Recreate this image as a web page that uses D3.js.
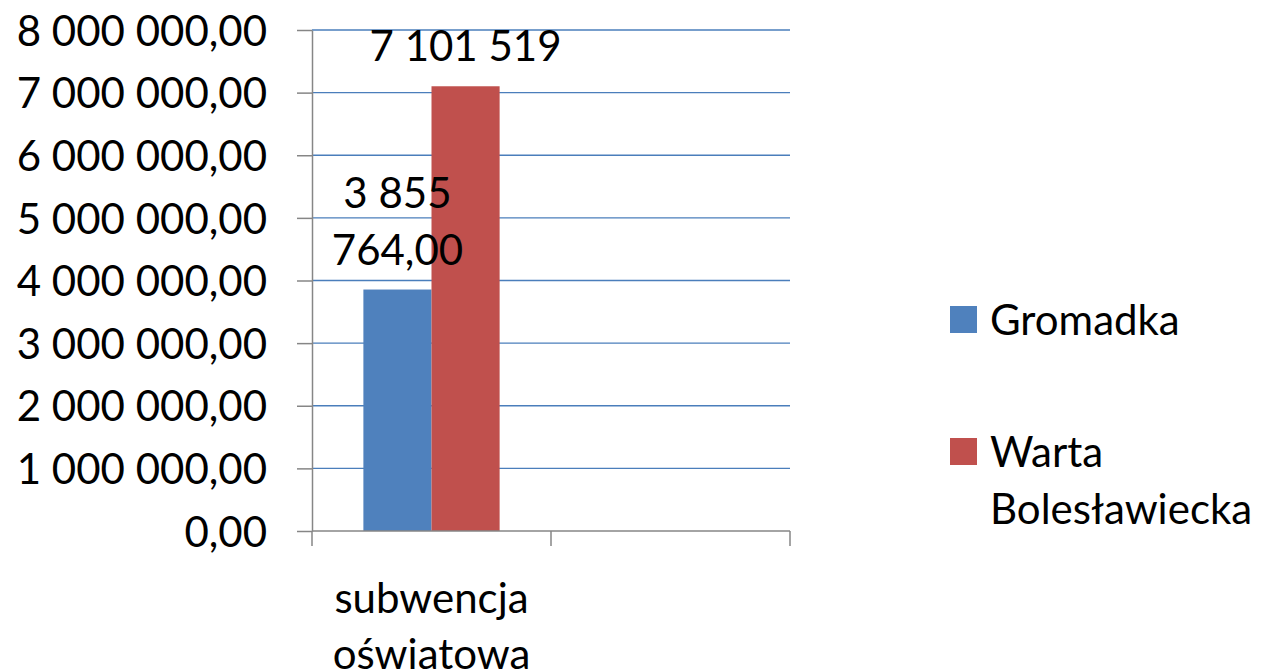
<!DOCTYPE html>
<html>
<head>
<meta charset="utf-8">
<script src="https://cdn.jsdelivr.net/npm/d3@7"></script>
<style>
  body { margin: 0; background: #fff; }
  svg text { font-family: Lato, "Open Sans", sans-serif; fill: #000; }
</style>
</head>
<body>
<svg width="1270" height="671"></svg>
<script>
// chart data
const categories = ["subwencja oświatowa", ""];
const seriesNames = ["Gromadka", "Warta Bolesławiecka"];
const gromadka = [3855764, null];
const warta = [7101519, null];
const seriesColors = ["#4f81bd", "#c0504d"];
const labelDecimals = [2, 0];
const yTicks = [0, 1000000, 2000000, 3000000, 4000000, 5000000, 6000000, 7000000, 8000000];

const pl = d3.formatLocale({decimal: ",", thousands: " ", grouping: [3], currency: ["", " zł"]});
const fmtTick = pl.format(",.2f");

const svg = d3.select('svg');
const margin = {top: 30, left: 312, right: 480, bottom: 140};
const width = +svg.attr('width');
const height = +svg.attr('height');
const innerWidth = width - margin.left - margin.right;
const innerHeight = height - margin.top - margin.bottom;
const fontSize = 42;

const series = seriesNames.map((name, i) => ({
  name: name,
  color: seriesColors[i],
  values: [gromadka, warta][i]
}));

const xScale = d3.scaleBand().domain(categories.map((c, i) => i)).range([0, innerWidth]);
const xInner = d3.scaleBand().domain(seriesNames)
  .range([xScale.bandwidth() * 0.215, xScale.bandwidth() * 0.785]);
const yScale = d3.scaleLinear().domain([0, 8000000]).range([innerHeight, 0]);

const g = svg.append('g').attr('transform', `translate(${margin.left}, ${margin.top})`);

// word wrap helper for text elements
function wrapText(textSel, str, maxWidth, lineHeight) {
  const words = str.split(' ');
  const lines = [];
  let line = '';
  const probe = textSel.append('tspan');
  words.forEach(w => {
    const test = line ? line + ' ' + w : w;
    probe.text(test);
    if (probe.node().getComputedTextLength() > maxWidth && line) {
      lines.push(line);
      line = w;
    } else {
      line = test;
    }
  });
  lines.push(line);
  probe.remove();
  lines.forEach((l, i) => {
    textSel.append('tspan').attr('x', textSel.attr('x')).attr('dy', i == 0 ? 0 : lineHeight).text(l);
  });
  return lines.length;
}

// gridlines
g.selectAll('.grid').data(yTicks.slice(1)).enter().append('line')
  .attr('x1', 0).attr('x2', innerWidth)
  .attr('y1', d => yScale(d)).attr('y2', d => yScale(d))
  .attr('stroke', '#4a7ebb').attr('stroke-width', 1.3);

// bars
series.forEach(s => {
  g.selectAll('.bar-' + s.name).data(s.values.map((v, i) => ({v: v, i: i})).filter(d => d.v != null))
    .enter().append('rect')
      .attr('x', d => xScale(d.i) + xInner(s.name))
      .attr('width', xInner.bandwidth())
      .attr('y', d => yScale(d.v))
      .attr('height', d => innerHeight - yScale(d.v))
      .attr('fill', s.color);
});

// y axis
const yAxis = g.append('g')
  .call(d3.axisLeft(yScale).tickValues(yTicks).tickSize(15).tickPadding(30).tickFormat(fmtTick).tickSizeOuter(0));
yAxis.select('.domain').attr('stroke', '#868686').attr('stroke-width', 1.5);
yAxis.selectAll('.tick line').attr('stroke', '#868686').attr('stroke-width', 1.5);
yAxis.selectAll('.tick text').attr('font-size', fontSize).attr('font-family', 'Lato').attr('dy', '0.36em');

// x axis
const xAxisG = g.append('g').attr('transform', `translate(0, ${innerHeight})`);
xAxisG.append('line').attr('x1', 0).attr('x2', innerWidth)
  .attr('stroke', '#868686').attr('stroke-width', 1.5);
xAxisG.selectAll('.xtick').data(d3.range(categories.length + 1)).enter().append('line')
  .attr('x1', d => d * xScale.step()).attr('x2', d => d * xScale.step())
  .attr('y1', 0).attr('y2', 15)
  .attr('stroke', '#868686').attr('stroke-width', 1.5);
categories.forEach((c, i) => {
  if (!c) return;
  const t = xAxisG.append('text')
    .attr('x', xScale(i) + xScale.bandwidth() / 2)
    .attr('y', 82)
    .attr('text-anchor', 'middle')
    .attr('font-size', fontSize);
  wrapText(t, c, 270, 56);
});

// data labels
series.forEach((s, si) => {
  const fmt = pl.format(`,.${labelDecimals[si]}f`);
  s.values.forEach((v, i) => {
    if (v == null) return;
    const t = g.append('text')
      .attr('x', xScale(i) + xInner(s.name) + xInner.bandwidth() / 2)
      .attr('text-anchor', 'middle')
      .attr('font-size', fontSize);
    const n = wrapText(t, fmt(v), 215, 57);
    t.attr('y', yScale(v) - 25 - (n - 1) * 57);
  });
});

// legend
const legend = svg.append('g').attr('transform', 'translate(950, 0)');
const legendY = [320, 452];
series.forEach((s, i) => {
  legend.append('rect')
    .attr('x', 0).attr('y', legendY[i] - 14)
    .attr('width', 27).attr('height', 27)
    .attr('fill', s.color);
  const t = legend.append('text')
    .attr('x', 40).attr('y', legendY[i] + 15)
    .attr('font-size', fontSize);
  wrapText(t, s.name, 280, 57);
});
</script>
</body>
</html>
